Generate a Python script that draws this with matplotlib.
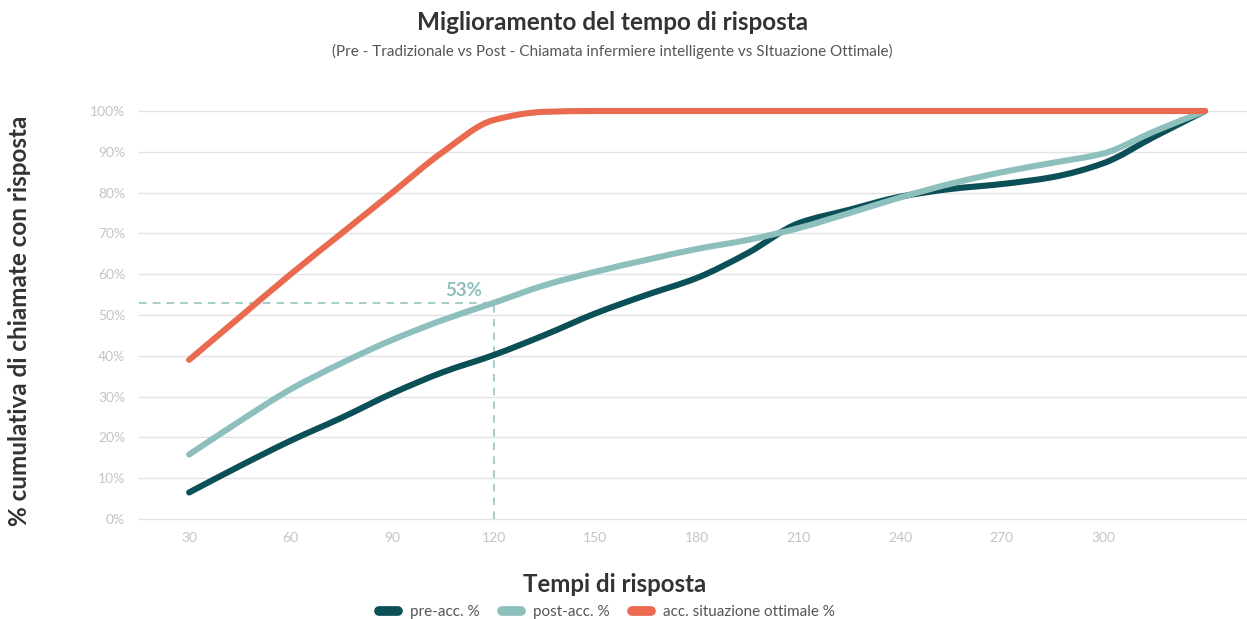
import numpy as np
import matplotlib
matplotlib.use("Agg")
import matplotlib.pyplot as plt
from matplotlib.path import Path
from matplotlib.patches import PathPatch
from matplotlib.lines import Line2D

# ---- data ----
seconds = [30, 45, 60, 75, 90, 105, 120, 135, 150, 165, 180, 195, 210, 225, 240, 255, 270, 285, 300, 315, 330]
pre_acc = [6.5, 13.0, 19.2, 24.8, 30.8, 36.0, 40.2, 45.1, 50.4, 54.9, 59.1, 65.2, 72.5, 75.8, 79.0, 80.9, 82.1, 83.8, 87.2, 93.7, 100.0]
post_acc = [15.8, 24.0, 31.8, 38.2, 43.9, 48.8, 53.0, 57.3, 60.6, 63.5, 66.2, 68.4, 71.3, 75.0, 78.8, 82.2, 85.0, 87.3, 89.6, 95.0, 100.0]
optimal = [39.0, 49.5, 60.0, 70.0, 80.0, 90.0, 97.8, 99.8, 100, 100, 100, 100, 100, 100, 100, 100, 100, 100, 100, 100, 100]
series_names = ["pre-acc. %", "post-acc. %", "acc. situazione ottimale %"]
series_colors = ["#0b4f57", "#8dc0bd", "#ea6a4f"]
xtick_vals = [30, 60, 90, 120, 150, 180, 210, 240, 270, 300]
ytick_vals = list(range(0, 101, 10))
highlight_x = 120
highlight_y = 53

TITLE = "Miglioramento del tempo di risposta"
SUBTITLE = "(Pre - Tradizionale vs Post - Chiamata infermiere intelligente vs SItuazione Ottimale)"
XLABEL = "Tempi di risposta"
YLABEL = "% cumulativa di chiamate con risposta"

plt.rcParams['font.family'] = ['Lato', 'DejaVu Sans']


def smooth_path(xs, ys):
    """Monotone cubic (Fritsch-Carlson) Bezier path through the data points."""
    x = np.asarray(xs, float)
    y = np.asarray(ys, float)
    h = np.diff(x)
    d = np.diff(y) / h
    n = len(x)
    m = np.zeros(n)
    m[0] = d[0]
    m[-1] = d[-1]
    for i in range(1, n - 1):
        if d[i - 1] * d[i] <= 0:
            m[i] = 0.0
        else:
            w1 = 2 * h[i] + h[i - 1]
            w2 = h[i] + 2 * h[i - 1]
            m[i] = (w1 + w2) / (w1 / d[i - 1] + w2 / d[i])
    verts = [(x[0], y[0])]
    codes = [Path.MOVETO]
    for i in range(n - 1):
        verts += [(x[i] + h[i] / 3, y[i] + m[i] * h[i] / 3),
                  (x[i + 1] - h[i] / 3, y[i + 1] - m[i + 1] * h[i] / 3),
                  (x[i + 1], y[i + 1])]
        codes += [Path.CURVE4] * 3
    return Path(verts, codes)


fig = plt.figure(figsize=(12.47, 6.19), dpi=100)
ax = fig.add_axes([139 / 1247, 1 - 519 / 619, 1 - 139 / 1247, (519 - 111) / 619])

ax.set_xlim(15.2, 342.4)
ax.set_ylim(0, 100)

for s in ax.spines.values():
    s.set_visible(False)
ax.set_yticks(ytick_vals)
ax.set_yticklabels([f"{v}%" for v in ytick_vals])
ax.set_xticks(xtick_vals)
ax.set_xticklabels([str(v) for v in xtick_vals])
ax.tick_params(axis='both', length=0, labelsize=10, labelcolor="#c4c4c4")
ax.tick_params(axis='y', pad=10)
ax.tick_params(axis='x', pad=9)
for v in ytick_vals:
    ax.axhline(v, color="#e2e2e2", linewidth=1, zorder=1, clip_on=False)

for vals, col, z in zip([pre_acc, post_acc, optimal], series_colors, [3, 4, 5]):
    patch = PathPatch(smooth_path(seconds, vals), facecolor='none', edgecolor=col,
                      linewidth=4.4, capstyle='round', joinstyle='round', zorder=z, clip_on=False)
    ax.add_patch(patch)

# highlight dashed guides
ax.plot([15.2, highlight_x], [highlight_y, highlight_y], color="#8dc0bd", lw=1.1,
        dashes=(5, 4), zorder=2)
ax.plot([highlight_x, highlight_x], [0, highlight_y], color="#8dc0bd", lw=1.1,
        dashes=(5, 4), zorder=2)
ax.text(highlight_x - 9, highlight_y + 1.0, f"{highlight_y}%", color="#8dc0bd",
        fontsize=13.5, fontweight='bold', ha='center', va='bottom', zorder=6)

fig.text(0.491, 1 - 22 / 619, TITLE, ha='center', va='center', fontsize=17.5,
         fontweight='bold', color="#333333")
fig.text(0.491, 1 - 51 / 619, SUBTITLE, ha='center', va='center', fontsize=11,
         color="#555555")
fig.text(615 / 1247, 1 - 584 / 619, XLABEL, ha='center', va='center', fontsize=17.3,
         fontweight='bold', color="#333333")
fig.text(20 / 1247, 1 - 321 / 619, YLABEL, ha='center', va='center', fontsize=17.5,
         fontweight='bold', color="#333333", rotation=90)

handles = [Line2D([0], [0], color=c, lw=7, solid_capstyle='round') for c in series_colors]
leg = fig.legend(handles, series_names, loc='center', bbox_to_anchor=(607 / 1247, 1 - 612 / 619),
                 ncol=3, frameon=False, fontsize=11, handlelength=1.2, columnspacing=1.5,
                 handletextpad=0.8)
for t in leg.get_texts():
    t.set_color("#555555")

fig.savefig("out.png", dpi=100)
